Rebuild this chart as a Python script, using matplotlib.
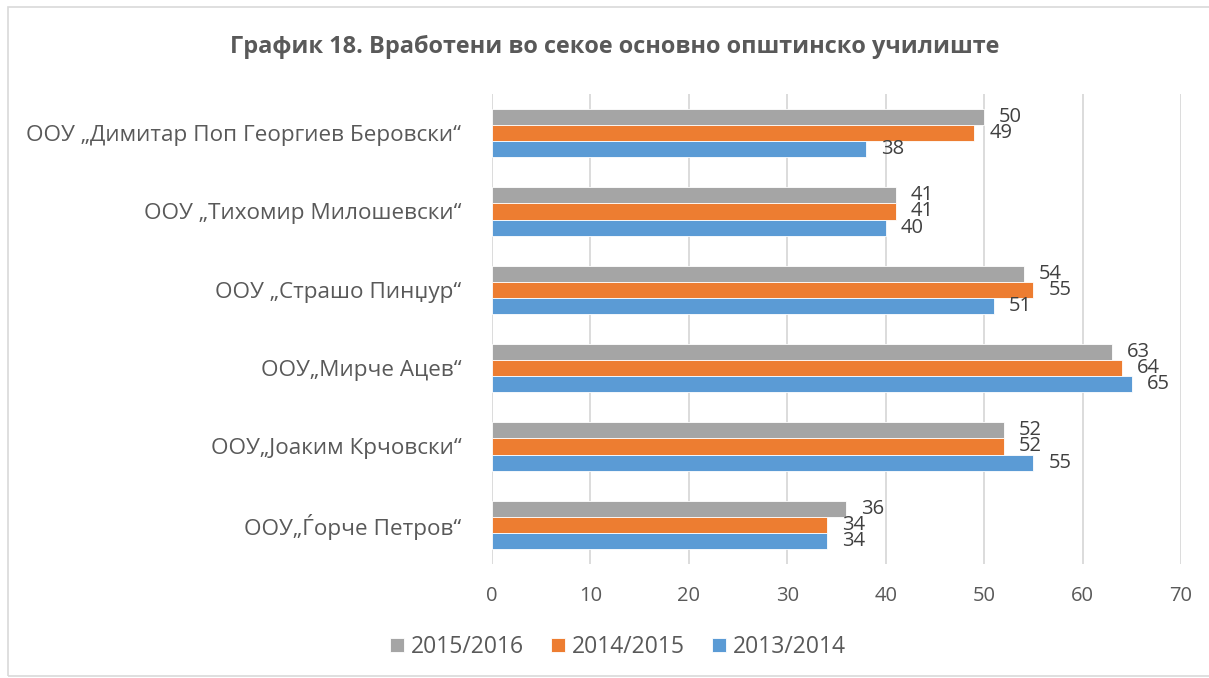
import matplotlib
matplotlib.use("Agg")
import matplotlib.pyplot as plt
import numpy as np
from matplotlib.patches import Rectangle

plt.rcParams['font.family'] = ['Open Sans', 'DejaVu Sans']

title = "График 18. Вработени во секое основно општинско училиште"
categories = [
    "ООУ „Димитар Поп Георгиев Беровски“",
    "ООУ „Тихомир Милошевски“",
    "ООУ „Страшо Пинџур“",
    "ООУ„Мирче Ацев“",
    "ООУ„Јоаким Крчовски“",
    "ООУ„Ѓорче Петров“",
]
series_names = ["2015/2016", "2014/2015", "2013/2014"]
v_2015_2016 = [50, 41, 54, 63, 52, 36]
v_2014_2015 = [49, 41, 55, 64, 52, 34]
v_2013_2014 = [38, 40, 51, 65, 55, 34]
colors = ["#A5A5A5", "#ED7D31", "#5B9BD5"]
xticks = [0, 10, 20, 30, 40, 50, 60, 70]

fig = plt.figure(figsize=(12.09, 6.78), dpi=100)
ax = fig.add_axes([492/1209, 1-564/678, (1181-492)/1209, (564-94)/678])

n = len(categories)
y = np.arange(n)
h = 0.205
offsets = [-h, 0, h]
all_vals = [v_2015_2016, v_2014_2015, v_2013_2014]
bars = []
for vals, off, c, name in zip(all_vals, offsets, colors, series_names):
    b = ax.barh(y + off, vals, height=h, color=c, edgecolor="white", linewidth=0.6, label=name, zorder=3)
    bars.append(b)
    for yi, v in zip(y + off, vals):
        ax.annotate(str(v), (v, yi), xytext=(15, 0), textcoords="offset pixels",
                    ha="left", va="center", fontsize=14.5, color="#404040", zorder=4)

ax.set_ylim(n - 0.5, -0.5)
ax.set_xlim(0, 70)
ax.set_xticks(xticks)
ax.set_yticks(y)
ax.set_yticklabels(categories)
ax.tick_params(axis='y', length=0, pad=22, labelsize=16.2, labelcolor="#595959")
ax.tick_params(axis='x', length=0, pad=16, labelsize=14.5, labelcolor="#595959")
ax.grid(axis='x', color="#D9D9D9", linewidth=1.3, zorder=0)
for s in ax.spines.values():
    s.set_visible(False)

fig.text(615/1209, 1-47/678, title, ha="center", va="center", fontsize=16.9,
         fontweight="bold", color="#595959")

leg = fig.legend(handles=bars, labels=series_names, loc="center", bbox_to_anchor=(618/1209, 1-647/678),
                 ncol=3, frameon=False, fontsize=16.5, handlelength=0.6, handleheight=0.6,
                 handletextpad=0.3, columnspacing=1.2)
for t in leg.get_texts():
    t.set_color("#595959")

fig.patches.append(Rectangle((8/1209, 2/678), 1.2, 1-9/678, transform=fig.transFigure,
                             fill=False, edgecolor="#D9D9D9", linewidth=1.2))

fig.savefig("out.png", dpi=100)
